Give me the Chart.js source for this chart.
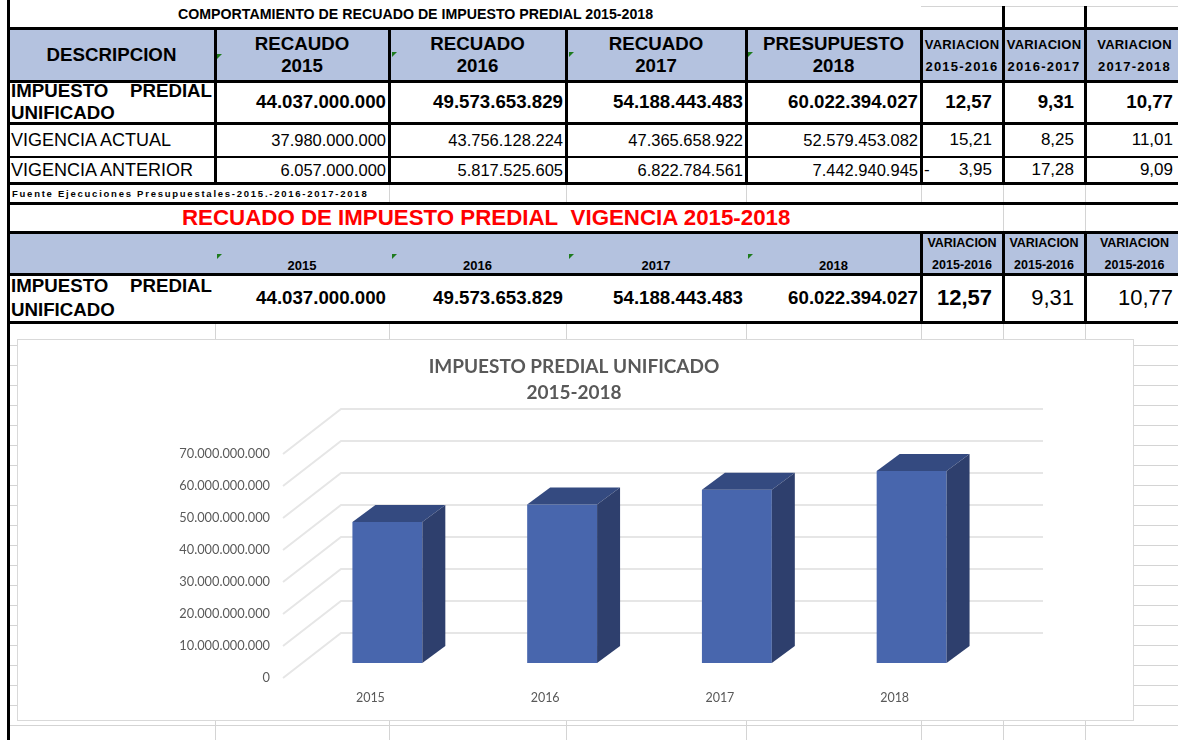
<!DOCTYPE html>
<html>
<head>
<meta charset="utf-8">
<script src="https://cdn.jsdelivr.net/npm/chart.js@4.4.1/dist/chart.umd.min.js"></script>
<style>
  body { margin: 0; width: 1178px; height: 740px; overflow: hidden; background: #fff; position: relative;
         font-family: "Liberation Sans", Arial, sans-serif; color: #000; }
  .c { position: absolute; box-sizing: border-box; display: flex; align-items: center; white-space: nowrap; }
  .c > div { white-space: nowrap; }
  .ctr { justify-content: center; text-align: center; }
  .rt { justify-content: flex-end; }
  .b { font-weight: bold; }
  .just > div { width: 100%; text-align: justify; white-space: normal; }
  .ln { position: absolute; }
  .mark { position: absolute; width: 0; height: 0; border-top: 5px solid #1e7b1e; border-right: 5px solid transparent; }
  #box { position: absolute; left: 17px; top: 339px; width: 1117px; height: 382px; box-sizing: border-box;
         border: 1px solid #d9d9d9; background: #fff; }
  #chart { position: absolute; left: 18px; top: 340px; }
</style>
</head>
<body>
<div id="sheet"></div>
<div id="box"></div>
<canvas id="chart" width="1115" height="380"></canvas>
<script>
const years = ['2015', '2016', '2017', '2018'];
const recaudo = [44037000000, 49573653829, 54188443483, 60022394027];
const vigenciaActual = [37980000000, 43756128224, 47365658922, 52579453082];
const vigenciaAnterior = [6057000000, 5817525605, 6822784561, 7442940945];
const variacionTotal = [12.57, 9.31, 10.77];
const variacionActual = [15.21, 8.25, 11.01];
const variacionAnterior = [-3.95, 17.28, 9.09];
const headRecaudo = ['RECAUDO', 'RECUADO', 'RECUADO', 'PRESUPUESTO'];
const headVariacion = ['2015-2016', '2016-2017', '2017-2018'];
const yMax = 70000000000;
const yStep = 10000000000;

// sheet grid (pixels)
const colX = [8, 215, 389, 566, 746, 921, 1003, 1085, 1184];
const rowY = [0, 28, 81, 123, 157, 183, 203, 232, 274, 322];

function miles(v) { return String(Math.round(v)).replace(/\B(?=(\d{3})+(?!\d))/g, '.'); }
function coma(v) { return Math.abs(v).toFixed(2).replace('.', ','); }

const sheet = document.getElementById('sheet');

function cell(x0, x1, y0, y1, html, cls, css) {
  const d = document.createElement('div');
  d.className = 'c ' + (cls || '');
  d.style.cssText = `left:${x0}px;top:${y0}px;width:${x1 - x0}px;height:${y1 - y0}px;` + (css || '');
  d.innerHTML = '<div>' + html + '</div>';
  sheet.appendChild(d);
}

function line(x0, y0, x1, y1, color, w) {
  const d = document.createElement('div');
  d.className = 'ln';
  if (y0 === y1) {
    d.style.cssText = `left:${x0}px;top:${y0 - w / 2}px;width:${x1 - x0}px;height:${w}px;background:${color}`;
  } else {
    d.style.cssText = `left:${x0 - w / 2}px;top:${y0}px;width:${w}px;height:${y1 - y0}px;background:${color}`;
  }
  sheet.appendChild(d);
}

function mark(x, y) {
  const d = document.createElement('div');
  d.className = 'mark';
  d.style.left = x + 'px';
  d.style.top = y + 'px';
  sheet.appendChild(d);
}

function variacionRow(vals, y0, y1, css) {
  vals.forEach((v, i) => {
    cell(colX[5 + i], colX[6 + i] - 11, y0, y1, coma(v), 'rt', css);
    if (v < 0) cell(colX[5 + i] + 3, colX[5 + i] + 20, y0, y1, '-', '', css);
  });
}

// blue header backgrounds
cell(8, 1184, rowY[1], rowY[2], '', '', 'background:#b4c2df');
cell(8, 1184, rowY[7], rowY[8], '', '', 'background:#b4c2df');

// first table
cell(178, 700, 0, 28, 'COMPORTAMIENTO DE RECUADO DE IMPUESTO PREDIAL 2015-2018', 'b', 'font-size:14.2px');
cell(colX[0], colX[1], rowY[1], rowY[2], 'DESCRIPCION', 'ctr b', 'font-size:18.7px');
headRecaudo.forEach((h, i) => {
  cell(colX[i + 1], colX[i + 2], rowY[1], rowY[2], h + '<br>' + years[i], 'ctr b', 'font-size:18.7px;line-height:22px');
});
headVariacion.forEach((h, i) => {
  cell(colX[5 + i], colX[6 + i], rowY[1], rowY[2],
    '<span style="letter-spacing:.3px">VARIACION</span><br><span style="letter-spacing:1.2px">' + h + '</span>',
    'ctr b', 'font-size:13px;line-height:22px;padding-top:3px');
});
[217, 392, 569, 748].forEach((x, i) => mark(x, i === 0 ? 54 : 52));

cell(colX[0] + 3, colX[1] - 3, rowY[2], rowY[3], 'IMPUESTO PREDIAL UNIFICADO', 'b just', 'font-size:18.7px;line-height:22px');
recaudo.forEach((v, i) => cell(colX[i + 1], colX[i + 2] - 3, rowY[2], rowY[3], miles(v), 'rt b', 'font-size:18.7px'));
variacionRow(variacionTotal, rowY[2], rowY[3], 'font-size:18.7px;font-weight:bold');

cell(colX[0] + 3, colX[1], rowY[3], rowY[4], 'VIGENCIA ACTUAL', '', 'font-size:18px');
vigenciaActual.forEach((v, i) => cell(colX[i + 1], colX[i + 2] - 3, rowY[3], rowY[4], miles(v), 'rt', 'font-size:16.5px'));
variacionRow(variacionActual, rowY[3], rowY[4], 'font-size:17px');

cell(colX[0] + 3, colX[1], rowY[4], rowY[5], 'VIGENCIA ANTERIOR', '', 'font-size:18px');
vigenciaAnterior.forEach((v, i) => cell(colX[i + 1], colX[i + 2] - 3, rowY[4], rowY[5], miles(v), 'rt', 'font-size:16.5px'));
variacionRow(variacionAnterior, rowY[4], rowY[5], 'font-size:17px');

cell(colX[0] + 4, 420, rowY[5], rowY[6], 'Fuente Ejecuciones Presupuestales-2015.-2016-2017-2018', 'b', 'font-size:9.5px;letter-spacing:1.75px');

// second table
cell(182, 860, rowY[6], rowY[7], 'RECUADO DE IMPUESTO PREDIAL&nbsp; VIGENCIA 2015-2018', 'b', 'font-size:22.3px;color:#ff0000');
years.forEach((y, i) => {
  cell(colX[i + 1], colX[i + 2], rowY[7], rowY[8], y, 'ctr b', 'font-size:13px;align-items:flex-end;padding-bottom:1px');
});
headVariacion.forEach((h, i) => {
  cell(colX[5 + i], colX[6 + i], rowY[7], rowY[8], 'VARIACION<br>2015-2016', 'ctr b', 'font-size:12.5px;line-height:22px;padding-top:1px');
});
[217, 392, 569, 748].forEach(x => mark(x, 254));

cell(colX[0] + 3, colX[1] - 3, rowY[8], rowY[9], 'IMPUESTO PREDIAL UNIFICADO', 'b just', 'font-size:18.7px;line-height:24px');
recaudo.forEach((v, i) => cell(colX[i + 1], colX[i + 2] - 3, rowY[8], rowY[9], miles(v), 'rt b', 'font-size:18.7px'));
variacionTotal.forEach((v, i) => {
  cell(colX[5 + i], colX[6 + i] - 11, rowY[8], rowY[9], coma(v), 'rt' + (i === 0 ? ' b' : ''), 'font-size:22px');
});

// grid lines
const gray = '#d4d4d4';
for (let y = 345; y <= 725; y += 20) line(9, y, 1178, y, gray, 1);
colX.slice(1, 8).forEach(x => line(x, rowY[9], x, 740, gray, 1));
[389, 566, 746, 921].forEach(x => line(x, rowY[5], x, rowY[6], gray, 1));
[1003, 1085].forEach(x => line(x, rowY[5], x, rowY[7], gray, 1));
line(921, 6, 1178, 6, gray, 1);

[[28, 3], [81, 3], [123, 3], [157, 2], [183, 3], [203, 3], [232, 3], [274, 3], [322, 3]]
  .forEach(([y, w]) => line(8, y, 1178, y, '#000', w));
colX.slice(1, 6).forEach(x => line(x, rowY[1], x, rowY[5], '#000', 3));
[1003, 1085].forEach(x => line(x, 6, x, rowY[5], '#000', 3));
[921, 1003, 1085].forEach(x => line(x, rowY[7], x, rowY[9], '#000', 3));
line(8, 0, 8, 740, '#000', 3);

// 3d faces and perspective wall for the bars
const bar3d = {
  id: 'bar3d',
  beforeDatasetsDraw(chart) {
    const { ctx, chartArea, scales: { y } } = chart;
    ctx.save();
    ctx.strokeStyle = '#e6e6e6';
    ctx.lineWidth = 2;
    y.ticks.forEach(t => {
      const py = y.getPixelForValue(t.value);
      const x0 = chartArea.left - 17;
      ctx.beginPath();
      ctx.moveTo(x0, py + 15);
      ctx.lineTo(x0 + 58, py - 30);
      ctx.lineTo(chartArea.right + 44, py - 30);
      ctx.stroke();
    });
    ctx.restore();
  },
  afterDatasetsDraw(chart) {
    const ctx = chart.ctx;
    const dx = 23, dy = -17;
    ctx.save();
    chart.getDatasetMeta(0).data.forEach(el => {
      const { x, y, base, width } = el.getProps(['x', 'y', 'base', 'width'], true);
      const l = x - width / 2, r = x + width / 2;
      ctx.fillStyle = '#344a80';
      ctx.beginPath();
      ctx.moveTo(l, y);
      ctx.lineTo(l + dx, y + dy);
      ctx.lineTo(r + dx, y + dy);
      ctx.lineTo(r, y);
      ctx.closePath();
      ctx.fill();
      ctx.fillStyle = '#2e3f6d';
      ctx.beginPath();
      ctx.moveTo(r, y);
      ctx.lineTo(r + dx, y + dy);
      ctx.lineTo(r + dx, base + dy);
      ctx.lineTo(r, base);
      ctx.closePath();
      ctx.fill();
    });
    ctx.restore();
  }
};

new Chart(document.getElementById('chart'), {
  type: 'bar',
  data: {
    labels: years,
    datasets: [{
      data: recaudo,
      backgroundColor: '#4866ad',
      barPercentage: 0.4,
      categoryPercentage: 1
    }]
  },
  options: {
    responsive: false,
    animation: false,
    layout: { padding: { left: 131, right: 134, top: 0, bottom: 0 } },
    plugins: {
      legend: { display: false },
      tooltip: { enabled: false },
      title: {
        display: true,
        text: ['IMPUESTO PREDIAL UNIFICADO', '2015-2018'],
        color: '#595959',
        font: { family: 'Lato', size: 19, weight: 'bold', lineHeight: 1.37 },
        padding: { top: 14, bottom: 33 }
      }
    },
    scales: {
      x: {
        grid: { display: false, drawTicks: false },
        border: { display: false },
        ticks: { color: '#595959', font: { family: 'Lato', size: 12.5 }, padding: 27, labelOffset: -17 },
        afterFit: s => { s.height = 57; }
      },
      y: {
        min: 0,
        max: yMax,
        grid: { display: false, drawTicks: false },
        border: { display: false },
        ticks: {
          stepSize: yStep,
          color: '#595959',
          font: { family: 'Lato', size: 12.8 },
          padding: 30,
          labelOffset: 15,
          callback: v => miles(v)
        },
        afterFit: s => { s.width = 151; }
      }
    }
  },
  plugins: [bar3d]
});
</script>
</body>
</html>
